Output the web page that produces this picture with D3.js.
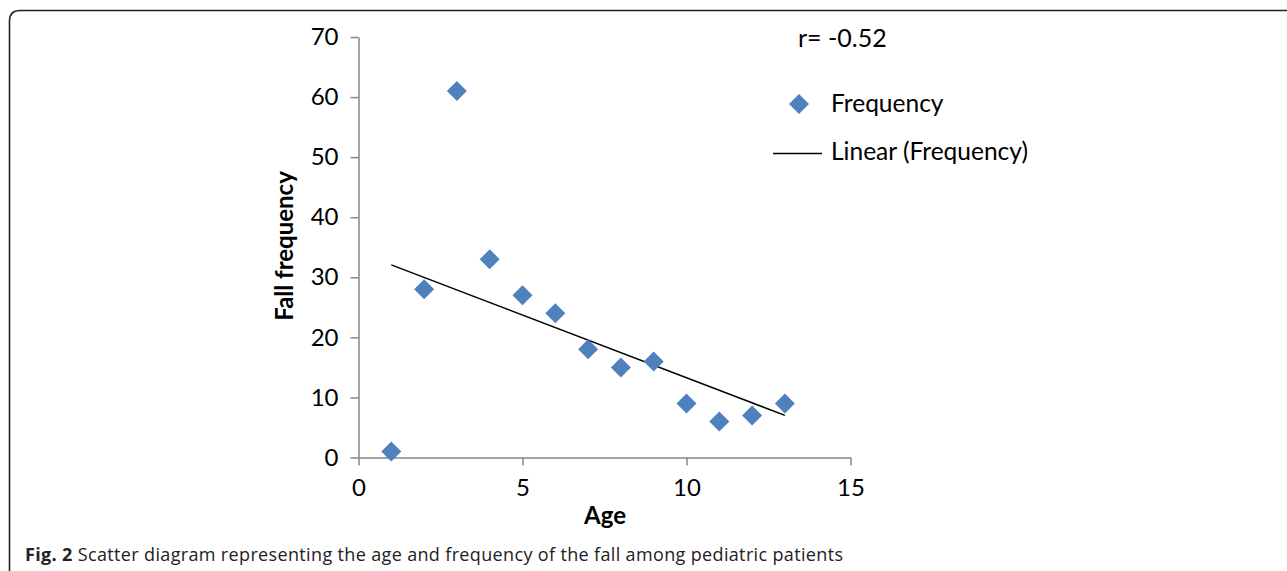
<!DOCTYPE html>
<html><head><meta charset="utf-8">
<script src="https://cdn.jsdelivr.net/npm/d3@7"></script>
<style>
html,body{margin:0;padding:0;background:#fff;}
svg{display:block;}
</style></head>
<body>
<svg id="chart" width="1287" height="571"></svg>
<script>
const ages = [1,2,3,4,5,6,7,8,9,10,11,12,13];
const frequency = [1,28,61,33,27,24,18,15,16,9,6,7,9];
const xTicks = [0,5,10,15];
const yTicks = [0,10,20,30,40,50,60,70];
const rLabel = "r= -0.52";
const seriesName = "Frequency";
const trendName = "Linear (Frequency)";
const xTitle = "Age";
const yTitle = "Fall frequency";
const captionBold = "Fig. 2";
const captionText = " Scatter diagram representing the age and frequency of the fall among pediatric patients";

const svg = d3.select("#chart");
const font = "Lato, 'Open Sans', sans-serif";

// border
svg.append("path")
  .attr("d", "M9.5,590 L9.5,21 Q9.5,10.5 20,10.5 L1300,10.5")
  .attr("fill","none").attr("stroke","#222").attr("stroke-width",1.6);

const x = d3.scaleLinear().domain([0,15]).range([358.5,850.5]);
const y = d3.scaleLinear().domain([0,70]).range([457.5,37]);

const gx = svg.append("g").attr("transform","translate(0,457.5)")
  .call(d3.axisBottom(x).tickValues(xTicks).tickSize(8).tickSizeOuter(0).tickPadding(13));
const gy = svg.append("g").attr("transform","translate(358.5,0)")
  .call(d3.axisLeft(y).tickValues(yTicks).tickSize(8).tickSizeOuter(0).tickPadding(12));
[gx,gy].forEach(g=>{
  g.select(".domain").attr("stroke","#868686").attr("stroke-width",1.5);
  g.selectAll(".tick line").attr("stroke","#868686").attr("stroke-width",1.5);
  g.selectAll(".tick text").attr("font-family",font).attr("font-size",24).attr("fill","#000");
});

// trend line (least squares from data)
const mx = d3.mean(ages), my = d3.mean(frequency);
const sxy = d3.sum(ages.map((a,i)=>(a-mx)*(frequency[i]-my)));
const sxx = d3.sum(ages.map(a=>(a-mx)*(a-mx)));
const slope = sxy/sxx, icpt = my - slope*mx;
const x0 = d3.min(ages), x1 = d3.max(ages);
svg.append("line")
  .attr("x1",x(x0)).attr("y1",y(icpt+slope*x0))
  .attr("x2",x(x1)).attr("y2",y(icpt+slope*x1))
  .attr("stroke","#000").attr("stroke-width",1.5);

const diamond = d3.symbol().type(d3.symbolSquare).size(200);
svg.append("g").selectAll("path").data(ages).join("path")
  .attr("d", diamond)
  .attr("transform",(d,i)=>`translate(${x(d)},${y(frequency[i])}) rotate(45)`)
  .attr("fill","#4F81BD");

// axis titles
svg.append("text").attr("x",605).attr("y",524).attr("text-anchor","middle")
  .attr("font-family",font).attr("font-weight","bold").attr("font-size",24).text(xTitle);
svg.append("text").attr("transform","translate(293,246) rotate(-90)").attr("text-anchor","middle")
  .attr("font-family",font).attr("font-weight","bold").attr("font-size",24).text(yTitle);

// r label
svg.append("text").attr("x",798).attr("y",47)
  .attr("font-family",font).attr("font-size",25).text(rLabel);

// legend
svg.append("path").attr("d",diamond).attr("transform","translate(799,104) rotate(45)").attr("fill","#4F81BD");
svg.append("text").attr("x",831).attr("y",112).attr("font-family",font).attr("font-size",24.5).text(seriesName);
svg.append("line").attr("x1",773).attr("x2",822).attr("y1",153.5).attr("y2",153.5).attr("stroke","#000").attr("stroke-width",1.5);
svg.append("text").attr("x",831).attr("y",160).attr("font-family",font).attr("font-size",24.5).text(trendName);

// caption
const cap = svg.append("text").attr("x",25).attr("y",561).attr("font-family","'Open Sans', sans-serif")
  .attr("font-size",18).attr("letter-spacing",0.35).attr("fill","#222");
cap.append("tspan").attr("font-weight","bold").text(captionBold);
cap.append("tspan").text(captionText);
</script>
</body></html>
